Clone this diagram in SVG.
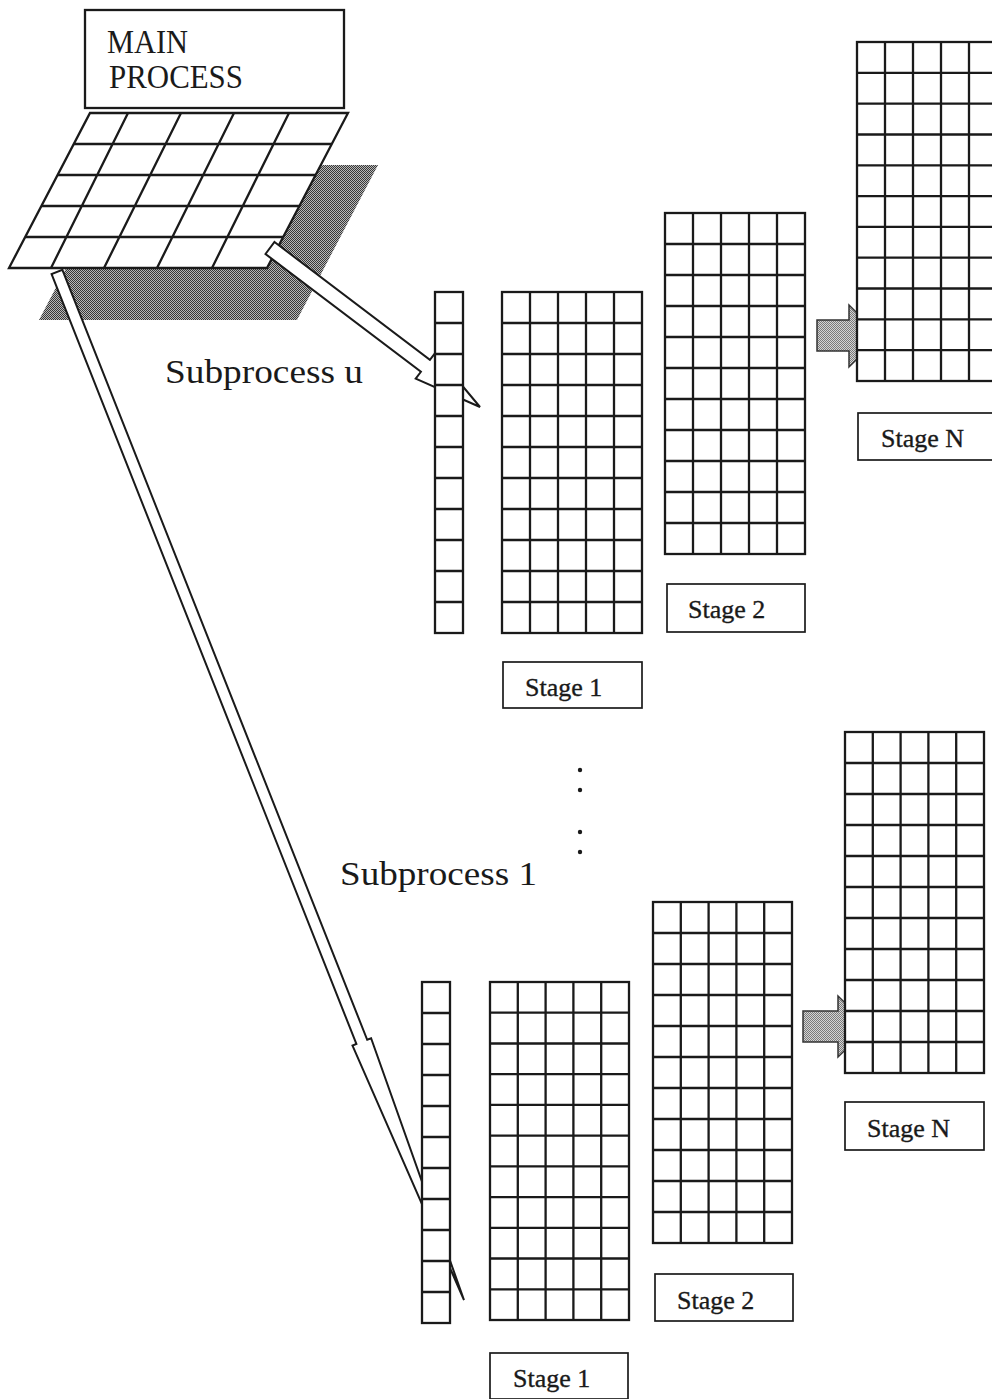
<svg xmlns="http://www.w3.org/2000/svg" width="992" height="1399" viewBox="0 0 992 1399">
  <defs>
    <!-- dark dithered fill for the table shadow -->
    <pattern id="stippleDark" width="2" height="2" patternUnits="userSpaceOnUse">
      <rect width="2" height="2" fill="#b8b8b8"/>
      <rect width="1" height="1" fill="#383838"/>
      <rect x="1" y="1" width="1" height="1" fill="#383838"/>
    </pattern>
    <!-- lighter dithered fill for the stage-to-stage block arrows -->
    <pattern id="stippleLight" width="2" height="2" patternUnits="userSpaceOnUse">
      <rect width="2" height="2" fill="#d4d4d4"/>
      <rect width="1" height="1" fill="#7a7a7a"/>
      <rect x="1" y="1" width="1" height="1" fill="#7a7a7a"/>
    </pattern>
    <style>
      .frame { fill: #ffffff; stroke: #1a1a1a; stroke-width: 2.3; }
      .lines { fill: none; stroke: #1a1a1a; stroke-width: 2.3; }
      .label { fill: #ffffff; stroke: #1a1a1a; stroke-width: 1.7; }
      .hollow { fill: #ffffff; stroke: #1a1a1a; stroke-width: 2; stroke-linejoin: miter; }
      .block { fill: url(#stippleLight); stroke: #333333; stroke-width: 1.5; }
      .big { font-family: "Liberation Serif", "Times New Roman", serif; font-size: 34px; fill: #1a1a1a; }
      .stage { font-family: "Liberation Serif", "Times New Roman", serif; font-size: 26px; fill: #1a1a1a; stroke: #1a1a1a; stroke-width: 0.35; }
      .dot { fill: #1a1a1a; }
    </style>
  </defs>

  <rect width="992" height="1399" fill="#ffffff"/>

  <!-- main process title box -->
  <g id="main-process">
    <rect class="frame" x="85" y="10" width="259" height="98"/>
    <text class="big" x="107" y="53" textLength="81" lengthAdjust="spacingAndGlyphs">MAIN</text>
    <text class="big" x="109" y="88" textLength="134" lengthAdjust="spacingAndGlyphs">PROCESS</text>
  </g>

  <!-- main process table drawn in perspective, with its cast shadow -->
  <g id="main-table">
    <polygon points="120,165 378,165 297,320 39,320" fill="url(#stippleDark)"/>
    <polygon class="frame" points="90,113 348,113 267,268 9,268"/>
    <path class="lines" d="M73.8 144H331.8 M57.6 175H315.6 M41.4 206H299.4 M25.2 237H283.2
                           M128 113L51 268 M181 113L104 268 M234 113L157 268 M289 113L212 268"/>
  </g>

  <!-- connectors -->
  <g id="connectors">
    <!-- to subprocess u -->
    <polygon class="hollow" points="274.5,242 429.9,359.8 435.1,353.1 480,407 415.7,378.6 420.9,371.8 265.5,254"/>
    <!-- to subprocess 1 -->
    <polygon class="hollow" points="51.6,274.1 356.4,1044 352.5,1045.6 464,1300 371.1,1038.2 367.2,1039.8 62.4,269.9"/>
    <!-- stage 2 to stage N, upper -->
    <polygon class="block" points="817,320 849,320 849,305 880,336 849,367 849,351 817,351"/>
    <!-- stage 2 to stage N, lower -->
    <polygon class="block" points="803,1011 838,1011 838,996 869,1026.5 838,1057 838,1042 803,1042"/>
  </g>

  <!-- subprocess u -->
  <g id="sub-u-input">
    <rect class="frame" x="435" y="292" width="28" height="341"/>
    <path class="lines" d="M435 323h28M435 354h28M435 385h28M435 416h28M435 447h28M435 478h28M435 509h28M435 540h28M435 571h28M435 602h28"/>
  </g>
  <g id="sub-u-stage1">
    <rect class="frame" x="502" y="292" width="140" height="341"/>
    <path class="lines" d="M530 292v341M558 292v341M586 292v341M614 292v341
                           M502 323h140M502 354h140M502 385h140M502 416h140M502 447h140M502 478h140M502 509h140M502 540h140M502 571h140M502 602h140"/>
    <rect class="label" x="503" y="662" width="139" height="46"/>
    <text class="stage" x="525" y="696">Stage 1</text>
  </g>
  <g id="sub-u-stage2">
    <rect class="frame" x="665" y="213" width="140" height="341"/>
    <path class="lines" d="M693 213v341M721 213v341M749 213v341M777 213v341
                           M665 244h140M665 275h140M665 306h140M665 337h140M665 368h140M665 399h140M665 430h140M665 461h140M665 492h140M665 523h140"/>
    <rect class="label" x="667" y="584" width="138" height="48"/>
    <text class="stage" x="688" y="618">Stage 2</text>
  </g>
  <g id="sub-u-stageN">
    <rect class="frame" x="857" y="42" width="140" height="339"/>
    <path class="lines" d="M885 42v339M913 42v339M941 42v339M969 42v339
                           M857 72.8h140M857 103.6h140M857 134.5h140M857 165.3h140M857 196.1h140M857 226.9h140M857 257.7h140M857 288.5h140M857 319.4h140M857 350.2h140"/>
    <rect class="label" x="858" y="413" width="137" height="47"/>
    <text class="stage" x="881" y="447">Stage N</text>
  </g>
  <text class="big" x="165" y="383" textLength="198" lengthAdjust="spacingAndGlyphs">Subprocess u</text>

  <!-- ellipsis between the subprocesses -->
  <g id="ellipsis">
    <circle class="dot" cx="580" cy="770" r="2.2"/>
    <circle class="dot" cx="580" cy="790" r="2.2"/>
    <circle class="dot" cx="580" cy="832" r="2.2"/>
    <circle class="dot" cx="580" cy="852" r="2.2"/>
  </g>

  <!-- subprocess 1 -->
  <text class="big" x="340" y="885" textLength="197" lengthAdjust="spacingAndGlyphs">Subprocess 1</text>
  <g id="sub-1-input">
    <rect class="frame" x="422" y="982" width="28" height="341"/>
    <path class="lines" d="M422 1013h28M422 1044h28M422 1075h28M422 1106h28M422 1137h28M422 1168h28M422 1199h28M422 1230h28M422 1261h28M422 1292h28"/>
  </g>
  <g id="sub-1-stage1">
    <rect class="frame" x="490" y="982" width="139" height="338"/>
    <path class="lines" d="M517.8 982v338M545.6 982v338M573.4 982v338M601.2 982v338
                           M490 1012.7h139M490 1043.5h139M490 1074.2h139M490 1104.9h139M490 1135.6h139M490 1166.4h139M490 1197.1h139M490 1227.8h139M490 1258.5h139M490 1289.3h139"/>
    <rect class="label" x="490" y="1353" width="138" height="46"/>
    <text class="stage" x="513" y="1387">Stage 1</text>
  </g>
  <g id="sub-1-stage2">
    <rect class="frame" x="653" y="902" width="139" height="341"/>
    <path class="lines" d="M680.8 902v341M708.6 902v341M736.4 902v341M764.2 902v341
                           M653 933h139M653 964h139M653 995h139M653 1026h139M653 1057h139M653 1088h139M653 1119h139M653 1150h139M653 1181h139M653 1212h139"/>
    <rect class="label" x="655" y="1274" width="138" height="47"/>
    <text class="stage" x="677" y="1309">Stage 2</text>
  </g>
  <g id="sub-1-stageN">
    <rect class="frame" x="845" y="732" width="139" height="341"/>
    <path class="lines" d="M872.8 732v341M900.6 732v341M928.4 732v341M956.2 732v341
                           M845 763h139M845 794h139M845 825h139M845 856h139M845 887h139M845 918h139M845 949h139M845 980h139M845 1011h139M845 1042h139"/>
    <rect class="label" x="845" y="1102" width="139" height="48"/>
    <text class="stage" x="867" y="1137">Stage N</text>
  </g>
</svg>
